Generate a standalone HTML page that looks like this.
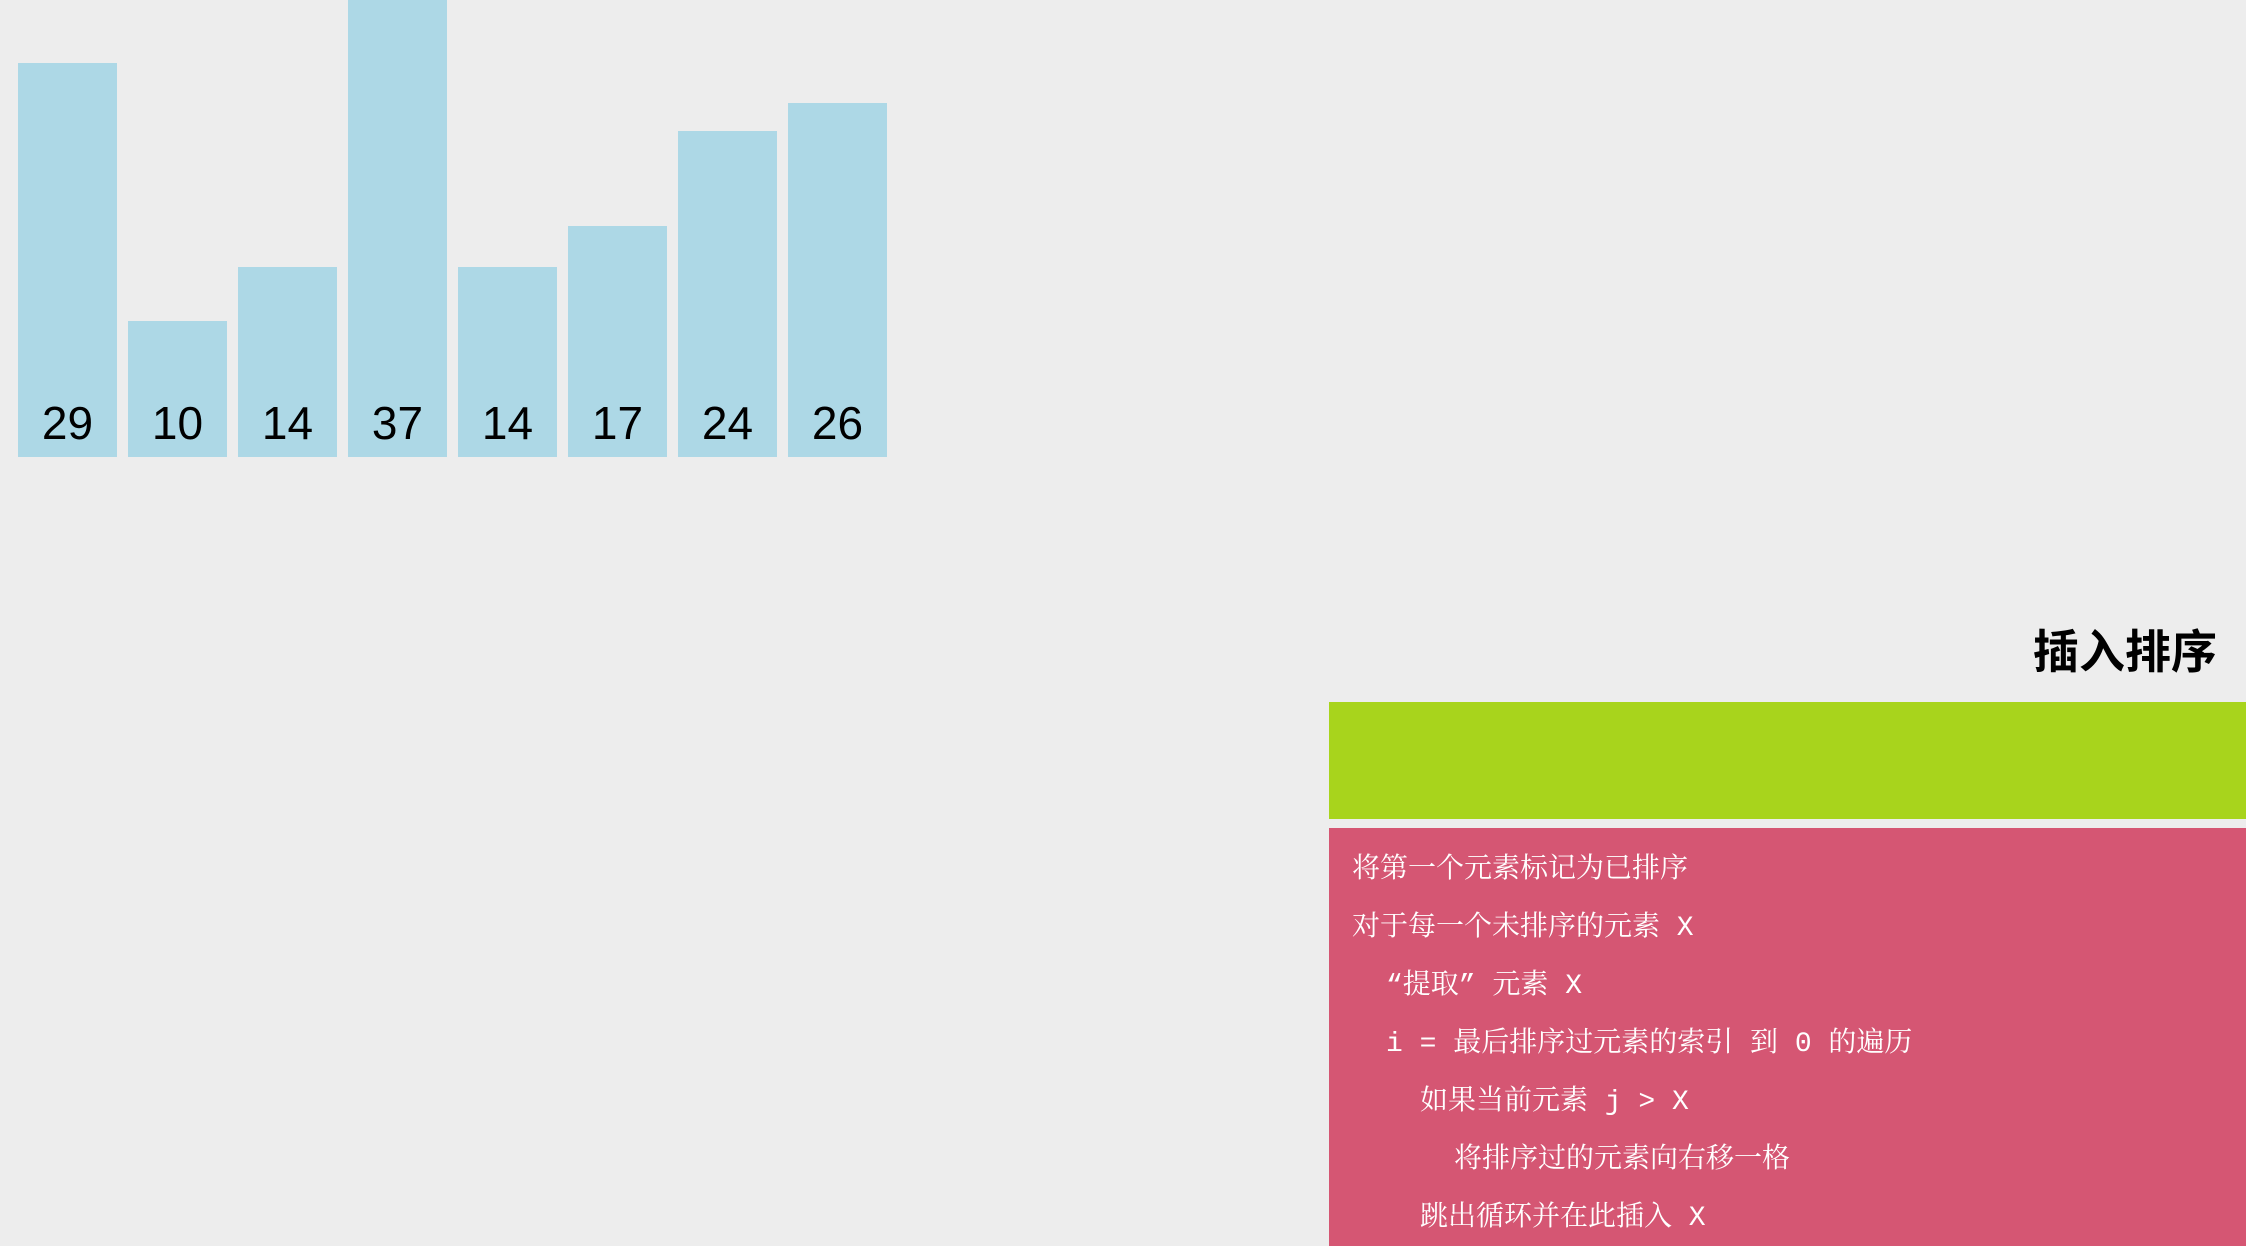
<!DOCTYPE html>
<html><head><meta charset="utf-8"><style>
html,body{margin:0;padding:0;}
body{width:2246px;height:1246px;background:#ededed;position:relative;overflow:hidden;font-family:"Liberation Sans","Noto Sans CJK SC",sans-serif;}
.bar{position:absolute;background:#add8e6;}
.lbl{position:absolute;width:99px;text-align:center;font-size:46px;color:#000;}
#title{position:absolute;right:29px;top:616px;font-size:46px;font-weight:bold;}
#green{position:absolute;left:1329px;top:702px;width:917px;height:117px;background:#a8d41c;}
#red{position:absolute;left:1329px;top:828px;width:917px;height:418px;background:#d55673;}
.ln{position:absolute;color:#fff;font-size:28px;font-family:"Liberation Mono","Noto Serif CJK SC",serif;white-space:pre;line-height:34px;}
</style></head><body>
<div id="chart"></div>
<div id="title">插入排序</div>
<div id="green"></div>
<div id="red">
<div class="ln" style="left:23px;top:26px">将第一个元素标记为已排序</div>
<div class="ln" style="left:23px;top:84px">对于每一个未排序的元素 X</div>
<div class="ln" style="left:57px;top:142px">“提取” 元素 X</div>
<div class="ln" style="left:57px;top:200px">i = 最后排序过元素的索引 到 0 的遍历</div>
<div class="ln" style="left:91px;top:258px">如果当前元素 j > X</div>
<div class="ln" style="left:125px;top:316px">将排序过的元素向右移一格</div>
<div class="ln" style="left:91px;top:374px">跳出循环并在此插入 X</div>
</div>
<script>
const values = [29, 10, 14, 37, 14, 17, 24, 26];
const labels = ["29", "10", "14", "37", "14", "17", "24", "26"];
const chart = document.getElementById('chart');
const baseY = 457, x0 = 18, step = 110, bw = 99, unit = 13.6;
values.forEach((v, i) => {
  const h = v * unit;
  const b = document.createElement('div');
  b.className = 'bar';
  
  
  b.style.left = (x0 + i * step) + 'px';
  b.style.top = (baseY - h) + 'px';
  b.style.width = bw + 'px';
  b.style.height = h + 'px';
  chart.appendChild(b);
  const t = document.createElement('div');
  t.className = 'lbl';
  
  
  t.textContent = labels[i];
  t.style.left = (x0 + i * step) + 'px';
  t.style.top = '396px';
  chart.appendChild(t);
});
</script>
</body></html>
